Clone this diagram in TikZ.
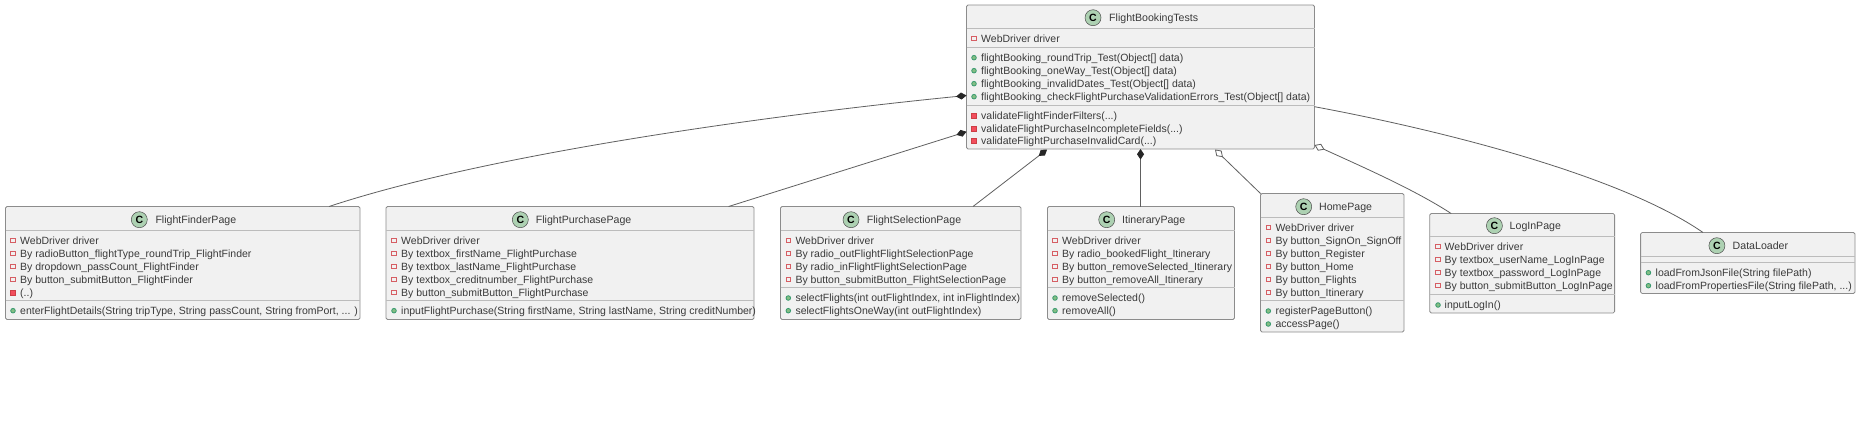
\documentclass[tikz,border=0pt]{standalone}
\usepackage{fontspec}
\setmainfont[Ligatures=NoCommon]{Liberation Sans}
\usetikzlibrary{arrows.meta}
\definecolor{boxfill}{HTML}{F1F1F1}
\definecolor{boxline}{HTML}{8C8C8C}
\definecolor{sepline}{HTML}{BCBCBC}
\definecolor{connline}{HTML}{606060}
\definecolor{iconfill}{HTML}{ADD1B2}
\definecolor{privline}{HTML}{C82930}
\definecolor{privfill}{HTML}{F24D5C}
\definecolor{publine}{HTML}{038048}
\definecolor{pubfill}{HTML}{84BE84}
\definecolor{txt}{HTML}{3A3A3A}
\tikzset{
  umlbox/.style={draw=boxline,fill=boxfill,line width=.8pt,rounded corners=1.5pt,inner sep=0pt,outer sep=0pt},
  sepstyle/.style={draw=sepline,line width=1pt},
  rowtext/.style={text=txt,font=\fontsize{10.5}{13}\selectfont,inner sep=0pt,anchor=base west,yshift=-3.8pt},
  titletext/.style={text=txt,font=\fontsize{10.6}{13}\selectfont,inner sep=0pt,anchor=base west,yshift=-3.8pt},
  iconstyle/.style={circle,draw=black!70,line width=.5pt,fill=iconfill,minimum size=16pt,inner sep=0pt,font=\fontsize{10.5}{11}\selectfont\bfseries,text=black},
  privfield/.style={rectangle,draw=privline!75,fill=boxfill,line width=.9pt,minimum size=4.2pt,inner sep=0pt},
  privmethod/.style={rectangle,draw=privline!90,fill=privfill,line width=.5pt,minimum size=5.2pt,inner sep=0pt},
  pubmethod/.style={circle,draw=publine!80,fill=pubfill,line width=.8pt,minimum size=4.6pt,inner sep=0pt},
  conn/.style={draw=connline,line width=.8pt},
  compos/.style={conn,{Diamond[length=10.5pt,width=7pt,fill=black!85,color=black!85]}-},
  aggreg/.style={conn,{Diamond[open,length=11pt,width=7.5pt,fill=white]}-}
}
\newcounter{rowno}
\newcommand{\umlclass}[5]{\node[umlbox,minimum width={(#4-#2)*1pt},minimum height={(#5-#3)*1pt}] (#1) at ({(#2+#4)/2},{(#3+#5)/2}) {};}
\newcommand{\compart}[2]{\draw[sepstyle] (#1.west |- 0,#2) -- (#1.east |- 0,#2);}
\newcommand{\umlhead}[5]{\node[iconstyle] (#1icon) at (#2,#3) {C};\node[titletext] (#1title) at (#4,#3) {#5};}
\newcommand{\umlrow}[5]{\stepcounter{rowno}\node[#1] (m\arabic{rowno}) at (#2,#4) {};\node[rowtext] (t\arabic{rowno}) at (#3,#4) {#5};}
\begin{document}
\begin{tikzpicture}[x=1pt,y=-1pt]
\useasboundingbox[fill=white] (0,0) rectangle (1860,437);
% FlightBookingTests
\umlclass{T}{966.5}{5}{1314.5}{149}
\compart{T}{28}\compart{T}{47}\compart{T}{105}
\umlhead{T}{1093}{17.7}{1109}{FlightBookingTests}
\umlrow{privfield}{974}{981}{38.7}{WebDriver driver}
\umlrow{pubmethod}{974}{981}{57.7}{flightBooking\_roundTrip\_Test(Object[] data)}
\umlrow{pubmethod}{974}{981}{70.7}{flightBooking\_oneWay\_Test(Object[] data)}
\umlrow{pubmethod}{974}{981}{83.7}{flightBooking\_invalidDates\_Test(Object[] data)}
\umlrow{pubmethod}{974}{981}{96.7}{flightBooking\_checkFlightPurchaseValidationErrors\_Test(Object[] data)}
\umlrow{privmethod}{974}{981}{115.7}{validateFlightFinderFilters(...)}
\umlrow{privmethod}{974}{981}{128.7}{validateFlightPurchaseIncompleteFields(...)}
\umlrow{privmethod}{974}{981}{141}{validateFlightPurchaseInvalidCard(...)}
% FlightFinderPage
\umlclass{F}{5.5}{206.5}{360}{319.5}
\compart{F}{230.5}\compart{F}{300.5}
\umlhead{F}{139.3}{219.7}{155.3}{FlightFinderPage}
\umlrow{privfield}{13}{20}{240.7}{WebDriver driver}
\umlrow{privfield}{13}{20}{253.7}{By radioButton\_flightType\_roundTrip\_FlightFinder}
\umlrow{privfield}{13}{20}{266.7}{By dropdown\_passCount\_FlightFinder}
\umlrow{privfield}{13}{20}{279.7}{By button\_submitButton\_FlightFinder}
\umlrow{privmethod}{13}{20}{292.5}{(..)}
\umlrow{pubmethod}{13}{20}{310.7}{enterFlightDetails(String tripType, String passCount, String fromPort, ... )}
% FlightPurchasePage
\umlclass{P}{386}{206.5}{754}{319.5}
\compart{P}{230.5}\compart{P}{300.5}
\umlhead{P}{520.3}{219.7}{535.7}{FlightPurchasePage}
\umlrow{privfield}{394}{401}{240.7}{WebDriver driver}
\umlrow{privfield}{394}{401}{253.7}{By textbox\_firstName\_FlightPurchase}
\umlrow{privfield}{394}{401}{266.7}{By textbox\_lastName\_FlightPurchase}
\umlrow{privfield}{394}{401}{279.7}{By textbox\_creditnumber\_FlightPurchase}
\umlrow{privfield}{394}{401}{292.5}{By button\_submitButton\_FlightPurchase}
\umlrow{pubmethod}{394}{401}{310.7}{inputFlightPurchase(String firstName, String lastName, String creditNumber)}
% FlightSelectionPage
\umlclass{S}{780.5}{206.5}{1021}{319.5}
\compart{S}{230.5}\compart{S}{287.5}
\umlhead{S}{851}{219.7}{866.7}{FlightSelectionPage}
\umlrow{privfield}{788.3}{795.3}{240.7}{WebDriver driver}
\umlrow{privfield}{788.3}{795.3}{253.7}{By radio\_outFlightFlightSelectionPage}
\umlrow{privfield}{788.3}{795.3}{266.7}{By radio\_inFlightFlightSelectionPage}
\umlrow{privfield}{788.3}{795.3}{279.7}{By button\_submitButton\_FlightSelectionPage}
\umlrow{pubmethod}{788.3}{795.3}{298}{selectFlights(int outFlightIndex, int inFlightIndex)}
\umlrow{pubmethod}{788.3}{795.3}{310.7}{selectFlightsOneWay(int outFlightIndex)}
% ItineraryPage
\umlclass{I}{1047.5}{206.5}{1234.5}{319.5}
\compart{I}{230.5}\compart{I}{287.5}
\umlhead{I}{1106.7}{219.7}{1122}{ItineraryPage}
\umlrow{privfield}{1055}{1062}{240.7}{WebDriver driver}
\umlrow{privfield}{1055}{1062}{253.7}{By radio\_bookedFlight\_Itinerary}
\umlrow{privfield}{1055}{1062}{266.7}{By button\_removeSelected\_Itinerary}
\umlrow{privfield}{1055}{1062}{279.7}{By button\_removeAll\_Itinerary}
\umlrow{pubmethod}{1055}{1062}{298}{removeSelected()}
\umlrow{pubmethod}{1055}{1062}{310.7}{removeAll()}
% HomePage
\umlclass{H}{1260.5}{193.5}{1404}{332}
\compart{H}{217}\compart{H}{300.5}
\umlhead{H}{1303.7}{206.7}{1318.9}{HomePage}
\umlrow{privfield}{1268.3}{1275.3}{227.7}{WebDriver driver}
\umlrow{privfield}{1268.3}{1275.3}{240.7}{By button\_SignOn\_SignOff}
\umlrow{privfield}{1268.3}{1275.3}{253.7}{By button\_Register}
\umlrow{privfield}{1268.3}{1275.3}{266.7}{By button\_Home}
\umlrow{privfield}{1268.3}{1275.3}{279.7}{By button\_Flights}
\umlrow{privfield}{1268.3}{1275.3}{292.7}{By button\_Itinerary}
\umlrow{pubmethod}{1268.3}{1275.3}{311}{registerPageButton()}
\umlrow{pubmethod}{1268.3}{1275.3}{324}{accessPage()}
% LogInPage
\umlclass{L}{1429.7}{213.5}{1614.6}{313}
\compart{L}{236.5}\compart{L}{294.5}
\umlhead{L}{1494.4}{225.7}{1509.5}{LogInPage}
\umlrow{privfield}{1438}{1444.5}{246.7}{WebDriver driver}
\umlrow{privfield}{1438}{1444.5}{259.7}{By textbox\_userName\_LogInPage}
\umlrow{privfield}{1438}{1444.5}{272.7}{By textbox\_password\_LogInPage}
\umlrow{privfield}{1438}{1444.5}{285.7}{By button\_submitButton\_LogInPage}
\umlrow{pubmethod}{1438}{1444.5}{305}{inputLogIn()}
% DataLoader
\umlclass{D}{1640.6}{232.5}{1855}{293.5}
\compart{D}{256}\compart{D}{262}
\umlhead{D}{1716.9}{245.7}{1732.5}{DataLoader}
\umlrow{pubmethod}{1648.4}{1655.5}{272.7}{loadFromJsonFile(String filePath)}
\umlrow{pubmethod}{1648.4}{1655.5}{285.7}{loadFromPropertiesFile(String filePath, ...)}
% connectors
\draw[compos] ([yshift=-18.5pt]T.west) .. controls (800,112) and (500,150) .. ([xshift=146.25pt]F.north);
\draw[compos] ([yshift=-54.7pt]T.west) -- ([xshift=158.6pt]P.north);
\draw[compos] ([xshift=-93.5pt,yshift=-.5pt]T.south) -- ([xshift=72.25pt]S.north);
\draw[compos] (T.south) -- (T.south |- I.north);
\draw[aggreg] ([xshift=74.5pt,yshift=-.5pt]T.south) -- (H.north west);
\draw[aggreg] ([yshift=4pt]T.south east) .. controls (1365,168) and (1415,190) .. ([xshift=-71pt]L.north);
\draw[conn] ([yshift=-29.7pt]T.east) .. controls (1440,130) and (1620,175) .. ([xshift=-44.8pt]D.north);
\end{tikzpicture}
\end{document}
